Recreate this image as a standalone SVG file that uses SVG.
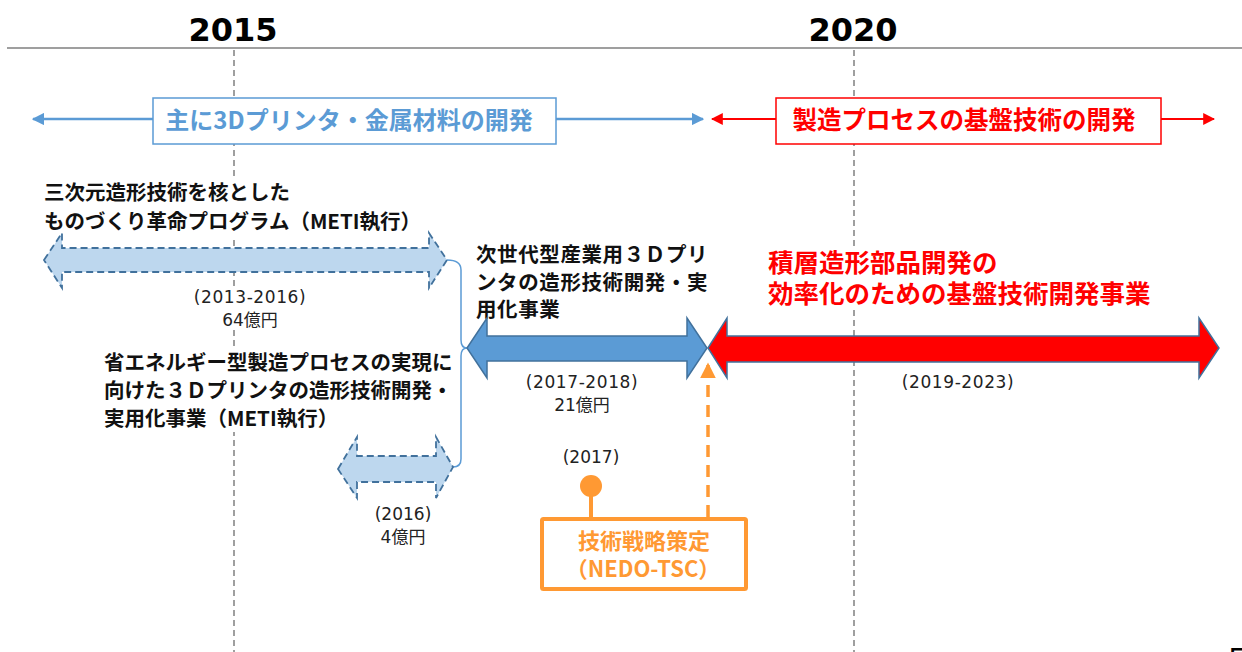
<svg xmlns="http://www.w3.org/2000/svg" width="1242" height="652" viewBox="0 0 1242 652">
<style>
.jp{font-family:"Noto Sans CJK JP","DejaVu Sans",sans-serif;}
.b{font-weight:bold;}
.year{font-family:"DejaVu Sans",sans-serif;font-weight:bold;font-size:32px;fill:#000;text-anchor:middle;}
.lbl{font-family:"DejaVu Sans","Noto Sans CJK JP",sans-serif;font-size:17px;fill:#222;text-anchor:middle;}
.blk{font-family:"Noto Sans CJK JP",sans-serif;font-weight:bold;font-size:20.5px;fill:#111;}
.grid{stroke:#808080;stroke-width:1.5;stroke-dasharray:6 4;fill:none;}
.wbg{fill:#fff;}
.dashArrow{fill:#bdd7ee;stroke:#41719c;stroke-width:1.8;stroke-dasharray:7 4;}
</style>
<defs>
<marker id="mBlue" viewBox="0 0 10 10" refX="9" refY="5" markerWidth="5" markerHeight="5" orient="auto-start-reverse" markerUnits="strokeWidth"><path d="M0,0 L10,5 L0,10 Z" fill="#5b9bd5"/></marker>
<marker id="mRed" viewBox="0 0 10 10" refX="9" refY="5" markerWidth="6" markerHeight="6" orient="auto-start-reverse" markerUnits="strokeWidth"><path d="M0,0 L10,5 L0,10 Z" fill="#ff0000"/></marker>
<marker id="mOrange" viewBox="0 0 10 10" refX="9" refY="5" markerWidth="4.5" markerHeight="4.5" orient="auto" markerUnits="strokeWidth"><path d="M0,0 L10,5 L0,10 Z" fill="#ff9933"/></marker>
</defs>
<rect width="1242" height="652" fill="#fff"/>
<g id="timeline">
<line x1="7" y1="48" x2="1242" y2="48" stroke="#7f7f7f" stroke-width="1.5"/>
<text class="year" x="233" y="41">2015</text>
<text class="year" x="853" y="41">2020</text>
<line class="grid" x1="234" y1="50" x2="234" y2="652"/>
<line class="grid" x1="854" y1="50" x2="854" y2="652"/>
</g>
<g id="connectors">
<line x1="33" y1="119" x2="703" y2="119" stroke="#5b9bd5" stroke-width="2.5" marker-start="url(#mBlue)" marker-end="url(#mBlue)"/>
<line x1="712" y1="119" x2="1214" y2="119" stroke="#ff0000" stroke-width="2" marker-start="url(#mRed)" marker-end="url(#mRed)"/>
<path d="M447,260 C456,260 461,263 461,270 L461,340 C461,345 463,348 467,348 C463,348 461,351 461,356 L461,459 C461,464 458,467 453,467" fill="none" stroke="#5b9bd5" stroke-width="1.5"/>
<line x1="708" y1="517" x2="708" y2="364" stroke="#ff9933" stroke-width="3.5" stroke-dasharray="12 8" marker-end="url(#mOrange)"/>
<line x1="591" y1="490" x2="591" y2="519" stroke="#ff9933" stroke-width="4"/>
</g>
<g id="phase-blue">
<rect x="153" y="98" width="403" height="46" fill="#fff" stroke="#5b9bd5" stroke-width="1.5"/>
<text class="jp b" x="349" y="129" font-size="24" fill="#5b9bd5" text-anchor="middle">主に3Dプリンタ・金属材料の開発</text>
</g>
<g id="phase-red">
<rect x="776" y="98" width="385" height="46" fill="#fff" stroke="#ff0000" stroke-width="1.5"/>
<text class="jp b" x="964" y="129" font-size="24.5" fill="#ff0000" text-anchor="middle">製造プロセスの基盤技術の開発</text>
</g>
<g id="program-2013">
<rect class="wbg" x="40" y="178" width="380" height="58"/>
<text class="blk" x="44" y="200">三次元造形技術を核とした</text>
<text class="blk" x="44" y="229">ものづくり革命プログラム（METI執行）</text>
<path class="dashArrow" d="M44,260 L62,233 L62,248 L429,248 L429,233 L447,260 L429,288 L429,272 L62,272 L62,288 Z"/>
<rect class="wbg" x="190" y="288" width="120" height="42"/>
<text class="lbl" x="250" y="303" letter-spacing="0.6">(2013-2016)</text>
<text class="lbl" x="250" y="326">64億円</text>
</g>
<g id="program-2016">
<rect class="wbg" x="100" y="348" width="356" height="84"/>
<text class="blk" x="104" y="370">省エネルギー型製造プロセスの実現に</text>
<text class="blk" x="104" y="398">向けた３Ｄプリンタの造形技術開発・</text>
<text class="blk" x="104" y="426">実用化事業（METI執行）</text>
<path class="dashArrow" d="M338,469 L357,437 L357,456 L436,456 L436,437 L453,467 L436,498 L436,482 L357,482 L357,498 Z"/>
<text class="lbl" x="403" y="520">(2016)</text>
<text class="lbl" x="403" y="543">4億円</text>
</g>
<g id="program-2017">
<text class="blk" x="476" y="262" letter-spacing="0.6">次世代型産業用３Ｄプリ</text>
<text class="blk" x="476" y="290" letter-spacing="0.6">ンタの造形技術開発・実</text>
<text class="blk" x="476" y="317" letter-spacing="0.6">用化事業</text>
<path d="M467,348 L487,318 L487,336 L687,336 L687,318 L707,348 L687,378 L687,361 L487,361 L487,378 Z" fill="#5b9bd5" stroke="#41719c" stroke-width="1.5"/>
<text class="lbl" x="582" y="388" letter-spacing="0.6">(2017-2018)</text>
<text class="lbl" x="582" y="411">21億円</text>
</g>
<g id="program-2019">
<rect class="wbg" x="764" y="248" width="392" height="60"/>
<text class="jp b" x="768" y="272" font-size="25.5" fill="#ff0000">積層造形部品開発の</text>
<text class="jp b" x="768" y="303" font-size="25.5" fill="#ff0000">効率化のための基盤技術開発事業</text>
<path d="M708,348 L727,318 L727,336 L1199,336 L1199,318 L1219,348 L1199,378 L1199,362 L727,362 L727,378 Z" fill="#ff0000" stroke="#41719c" stroke-width="1.5"/>
<rect class="wbg" x="894" y="372" width="128" height="22"/>
<text class="lbl" x="958" y="388" letter-spacing="0.6">(2019-2023)</text>
</g>
<g id="strategy-2017">
<text class="lbl" x="591" y="463">(2017)</text>
<circle cx="591" cy="486" r="11" fill="#ff9933"/>
<rect x="542" y="519" width="204" height="70" fill="#fff" stroke="#ff9933" stroke-width="4" rx="1.5"/>
<text class="jp b" x="644" y="549" font-size="22" fill="#ff9933" text-anchor="middle">技術戦略策定</text>
<text class="jp b" x="643" y="577" font-size="22" fill="#ff9933" text-anchor="middle">（NEDO-TSC）</text>
</g>
<text x="1228" y="670" font-family="DejaVu Sans,sans-serif" font-size="30" fill="#000">5</text>
</svg>
